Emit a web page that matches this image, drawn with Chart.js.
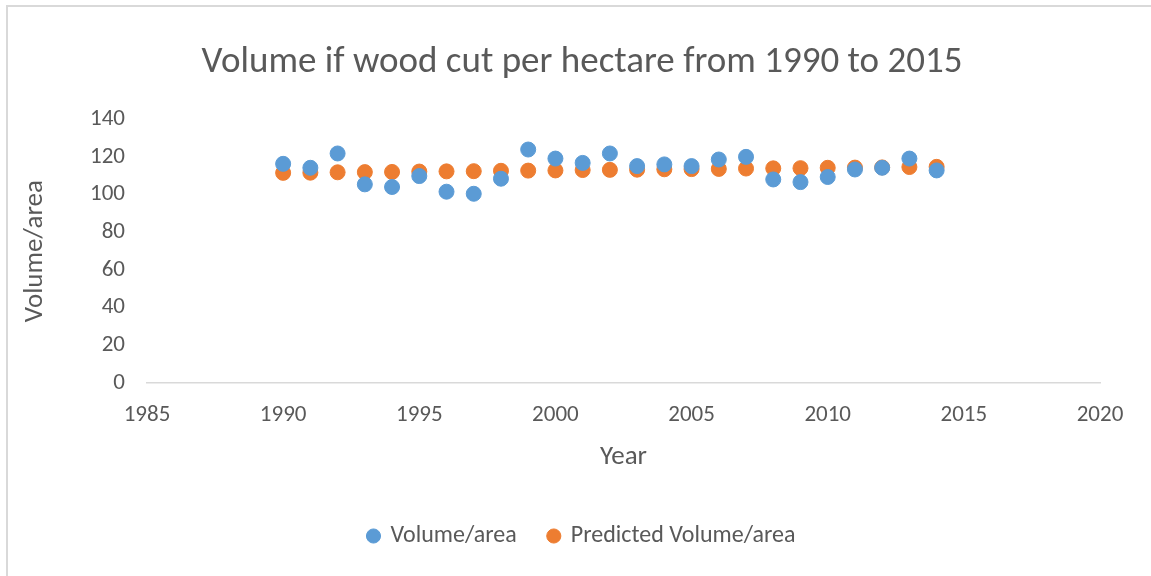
<!DOCTYPE html>
<html>
<head>
<meta charset="utf-8">
<script src="https://cdn.jsdelivr.net/npm/chart.js@4"></script>
<style>
  html, body { margin: 0; padding: 0; background: #fff; }
  #frame {
    position: absolute; left: 6px; top: 5px; width: 1160px; height: 590px;
    border-left: 2px solid #d9d9d9; border-top: 2px solid #d9d9d9;
  }
  #chart { position: absolute; left: 0; top: 0; }
</style>
</head>
<body>
<div id="frame"></div>
<canvas id="chart" width="1151" height="576"></canvas>
<script>
// years on the x axis
const years = [1990, 1991, 1992, 1993, 1994, 1995, 1996, 1997, 1998, 1999, 2000, 2001, 2002,
               2003, 2004, 2005, 2006, 2007, 2008, 2009, 2010, 2011, 2012, 2013, 2014];

// measured volume per area
const volume = [116.4, 114.3, 121.9, 105.5, 104.1, 109.9, 101.6, 100.5, 108.5, 124.0, 119.2, 116.9, 121.9,
                115.2, 116.1, 115.2, 118.7, 120.1, 108.1, 106.7, 109.4, 113.4, 114.3, 119.2, 112.9];

// predicted volume per area
const predicted = [111.6, 111.7, 111.9, 112.0, 112.1, 112.3, 112.4, 112.5, 112.7, 112.8, 112.9, 113.1, 113.2,
                   113.3, 113.5, 113.6, 113.7, 113.9, 114.0, 114.1, 114.3, 114.4, 114.5, 114.7, 114.8];

const seriesNames = ['Volume/area', 'Predicted Volume/area'];
const txt = '#595959';
const fontFam = 'Carlito, Calibri, "Open Sans", sans-serif';

const toPoints = vals => years.map((y, i) => ({ x: y, y: vals[i] }));

new Chart(document.getElementById('chart'), {
    type: 'scatter',
    data: {
        datasets: [
            {
                label: seriesNames[0],
                data: toPoints(volume),
                backgroundColor: '#5b9bd5',
                borderColor: '#5b9bd5',
                pointRadius: 7.5,
                pointHoverRadius: 7.5
            },
            {
                label: seriesNames[1],
                data: toPoints(predicted),
                backgroundColor: '#ed7d31',
                borderColor: '#ed7d31',
                pointRadius: 7.5,
                pointHoverRadius: 7.5
            }
        ]
    },
    options: {
        responsive: false,
        animation: false,
        // left padding 64 keeps the title / legend centred like the original
        layout: { padding: { left: 64, right: 51, top: 0, bottom: 18 } },
        plugins: {
            title: {
                display: true,
                text: 'Volume if wood cut per hectare from 1990 to 2015',
                color: txt,
                font: { family: fontFam, size: 37, weight: 'normal' },
                padding: { top: 41, bottom: 34 }
            },
            legend: {
                position: 'bottom',
                labels: {
                    color: txt,
                    font: { family: fontFam, size: 24 },
                    usePointStyle: true,
                    pointStyle: 'circle',
                    boxWidth: 10,
                    boxHeight: 10,
                    padding: 32
                }
            },
            tooltip: { enabled: false }
        },
        scales: {
            x: {
                type: 'linear',
                min: 1985,
                max: 2020,
                ticks: {
                    stepSize: 5,
                    color: txt,
                    font: { family: fontFam, size: 23 },
                    padding: 18,
                    callback: v => String(v)
                },
                grid: { display: false, drawTicks: false },
                border: { color: '#d9d9d9', width: 1.5 },
                title: {
                    display: true,
                    text: 'Year',
                    color: txt,
                    font: { family: fontFam, size: 27 },
                    padding: { top: 4, bottom: 19 }
                },
                afterFit: s => { s.height = 109; }
            },
            y: {
                min: 0,
                max: 140,
                ticks: {
                    stepSize: 20,
                    color: txt,
                    font: { family: fontFam, size: 23 },
                    padding: 22
                },
                grid: { display: false, drawTicks: false },
                border: { display: false },
                title: {
                    display: true,
                    text: 'Volume/area',
                    color: txt,
                    font: { family: fontFam, size: 27 },
                    padding: { top: -45, bottom: 4 }
                },
                afterFit: s => { s.width = 83; }
            }
        }
    }
});
</script>
</body>
</html>
